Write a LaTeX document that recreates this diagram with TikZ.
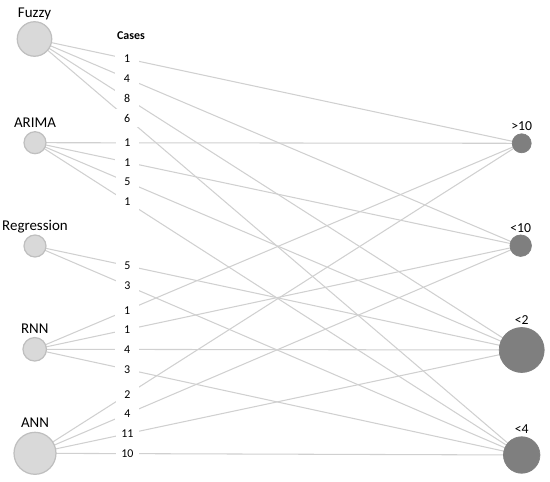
\documentclass[tikz,border=0pt]{standalone}
\usepackage{fontspec}
\setmainfont{Carlito}
\usetikzlibrary{backgrounds}
\definecolor{leftfill}{HTML}{D9D9D9}
\definecolor{leftline}{HTML}{BFBFBF}
\definecolor{rightfill}{HTML}{7F7F7F}
\definecolor{edgecol}{HTML}{D0D0D0}
\tikzset{
  src/.style={circle,fill=leftfill,draw=leftline,line width=0.7pt,inner sep=0pt,label distance=0pt},
  dst/.style={circle,fill=rightfill,draw=rightfill,inner sep=0pt,label distance=0pt},
  srclab/.style={font=\fontsize{8.5}{10}\selectfont,inner sep=2pt,text depth=0pt},
  dstlab/.style={font=\fontsize{7.8}{9}\selectfont,inner sep=1.2pt,text depth=0pt},
  edge/.style={draw=edgecol,line width=0.6pt},
  num/.style={pos=0.19,fill=white,inner sep=0pt,minimum width=13.5pt,minimum height=10.5pt,font=\fontsize{6.8}{8}\selectfont},
}

\begin{document}
\begin{tikzpicture}[x=0.02cm,y=-0.02cm]
    \useasboundingbox (0,0) rectangle (550,482);
    \node[src,minimum size=6.9mm,label={[srclab]above:Fuzzy}] (fuzzy) at (34.5,39) {};
    \node[src,minimum size=4.4mm,label={[srclab]above:ARIMA}] (arima) at (35,142.7) {};
    \node[src,minimum size=4.4mm,label={[srclab]above:Regression}] (regr) at (35,246) {};
    \node[src,minimum size=4.7mm,label={[srclab]above:RNN}] (rnn) at (34.7,349.3) {};
    \node[src,minimum size=8.4mm,label={[srclab]above:ANN}] (ann) at (35,453.3) {};
    \node[dst,minimum size=3.8mm,label={[dstlab]above:>10}] (gt10) at (521.7,143.3) {};
    \node[dst,minimum size=4.3mm,label={[dstlab]above:<10}] (lt10) at (520.7,245.7) {};
    \node[dst,minimum size=9mm,label={[dstlab]above:<2}] (lt2) at (521.7,350) {};
    \node[dst,minimum size=7.3mm,label={[dstlab]above:<4}] (lt4) at (521.7,455) {};
    \node[font=\bfseries\fontsize{6.8}{8}\selectfont] (cases) at (131,36) {Cases};
    \begin{scope}[on background layer]
    \draw[edge] (fuzzy.center) -- node[num]{1} (gt10.center);
    \draw[edge] (fuzzy.center) -- node[num]{4} (lt10.center);
    \draw[edge] (fuzzy.center) -- node[num]{8} (lt2.center);
    \draw[edge] (fuzzy.center) -- node[num]{6} (lt4.center);
    \draw[edge] (arima.center) -- node[num]{1} (gt10.center);
    \draw[edge] (arima.center) -- node[num]{1} (lt10.center);
    \draw[edge] (arima.center) -- node[num]{5} (lt2.center);
    \draw[edge] (arima.center) -- node[num]{1} (lt4.center);
    \draw[edge] (regr.center) -- node[num]{5} (lt2.center);
    \draw[edge] (regr.center) -- node[num]{3} (lt4.center);
    \draw[edge] (rnn.center) -- node[num]{1} (gt10.center);
    \draw[edge] (rnn.center) -- node[num]{1} (lt10.center);
    \draw[edge] (rnn.center) -- node[num]{4} (lt2.center);
    \draw[edge] (rnn.center) -- node[num]{3} (lt4.center);
    \draw[edge] (ann.center) -- node[num]{2} (gt10.center);
    \draw[edge] (ann.center) -- node[num]{4} (lt10.center);
    \draw[edge] (ann.center) -- node[num]{11} (lt2.center);
    \draw[edge] (ann.center) -- node[num]{10} (lt4.center);
    \end{scope}
\end{tikzpicture}
\end{document}
